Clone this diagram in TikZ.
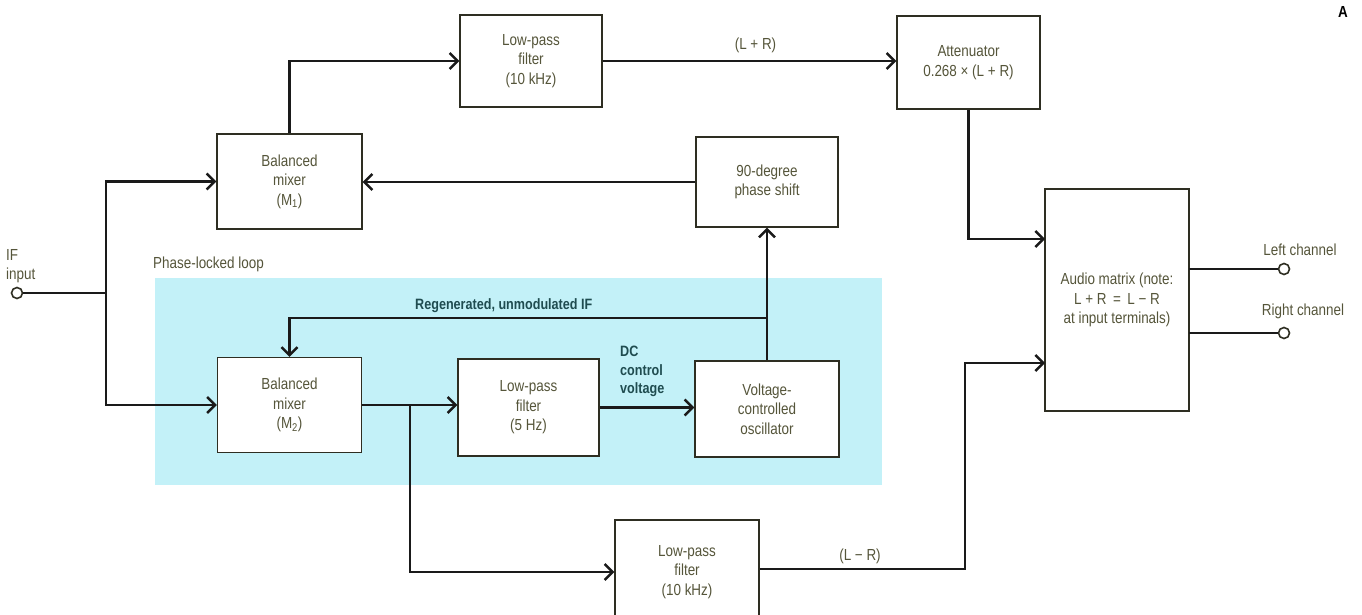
\documentclass[tikz,border=0pt]{standalone}
\usepackage{fontspec}
\setmainfont{Liberation Sans}[FakeStretch=0.84]
\usetikzlibrary{arrows.meta}
\definecolor{txtcol}{HTML}{55553A}
\definecolor{tealcol}{HTML}{1F4C50}
\definecolor{plcyan}{HTML}{C3F1F8}
\definecolor{bord}{HTML}{2E2E22}
\definecolor{wire}{HTML}{1A1A1A}
\tikzset{
  box/.style={draw=bord, line width=1.4pt, fill=white, align=center, inner sep=0pt,
    text=txtcol, font=\fontsize{16}{19.5}\selectfont},
  wireline/.style={draw=wire, line width=2.3pt},
  arr/.style={wireline, -{Straight Barb[length=8pt,width=16pt,line width=2.4pt]}},
  lbl/.style={text=txtcol, font=\fontsize{16}{19.5}\selectfont, inner sep=0pt},
  plllbl/.style={text=tealcol, font=\bfseries\fontsize{15}{18.5}\selectfont, inner sep=0pt},
  term/.style={circle, draw=bord, line width=1.6pt, fill=white, minimum size=11pt, inner sep=0pt}
}
\begin{document}
\begin{tikzpicture}[x=1pt,y=-1pt]
\useasboundingbox (0,0) rectangle (1362,615);
\fill[plcyan] (155,278) rectangle (882,485);

% boxes
\node[box, minimum width=142, minimum height=92] (lpf1) at (531,61) {Low-pass\\filter\\(10 kHz)};
\node[box, minimum width=143, minimum height=93] (att) at (968.5,62.5) {Attenuator\\0.268 × (L + R)};
\node[box, minimum width=145, minimum height=95] (m1) at (289.5,181.5) {Balanced\\mixer\\(M\textsubscript{1})};
\node[box, minimum width=142, minimum height=90] (ps) at (767,182) {90-degree\\phase shift};
\node[box, minimum width=144, minimum height=95] (m2) at (289.5,405) {Balanced\\mixer\\(M\textsubscript{2})};
\node[box, minimum width=141, minimum height=97] (lpf2) at (528.5,407.5) {Low-pass\\filter\\(5 Hz)};
\node[box, minimum width=144, minimum height=96] (vco) at (767,409) {Voltage-\\controlled\\oscillator};
\node[box, minimum width=144, minimum height=104] (lpf3) at (687,572) {Low-pass\\filter\\(10 kHz)};
\node[box, minimum width=144, minimum height=222] (am) at (1117,300) {Audio matrix (note:\\L + R \,=\, L − R\\at input terminals)};

% terminals
\node[term] (ifin) at (17,293) {};
\node[term] (lout) at (1284,269) {};
\node[term] (rout) at (1284,333) {};

% coordinates
\coordinate (j1) at (106,293);
\coordinate (r1) at (767,318);
\coordinate (b1) at (410,405);
\coordinate (am1) at (1045,239);
\coordinate (am2) at (1045,363);
\coordinate (k1) at (965,569);
\coordinate (am3) at (1189,269);
\coordinate (am4) at (1189,333);

% connectors
\draw[wireline] (ifin) -- (j1);
\draw[arr] (j1) |- (m1.west);
\draw[arr] (j1) |- (m2.west);
\draw[arr] (m1.north) |- (lpf1.west);
\draw[arr] (lpf1.east) -- (lpf1.east -| att.west) node[lbl, midway, above=7pt, xshift=6pt] {(L + R)};
\draw[arr] (att.south) |- (am1);
\draw[arr] (ps.west) -- (ps.west -| m1.east);
\draw[arr] (vco.north) -- (ps.south);
\draw[arr] (r1) -| (m2.north);
\draw[arr] (m2.east) -- (m2.east -| lpf2.west);
\draw[arr] (b1) |- (lpf3.west);
\draw[arr] (lpf2.east) -- (lpf2.east -| vco.west);
\draw[arr] (lpf3.east |- k1) -- (k1) |- (am2);
\draw[wireline] (am3) -- (lout);
\draw[wireline] (am4) -- (rout);

% labels
\node[lbl, anchor=north west, align=left] (iflbl) at (6,249) {IF\\input};
\node[lbl, anchor=west] (plllbl) at (153,264) {Phase-locked loop};
\node[plllbl, anchor=west] (regen) at (415,306) {Regenerated, unmodulated IF};
\node[plllbl, anchor=north west, align=left] (dclbl) at (620,346) {DC\\control\\voltage};
\node[lbl] (lmr) at (860,556) {(L − R)};
\node[lbl] (llbl) at (1300,250) {Left channel};
\node[lbl] (rlbl) at (1303,311) {Right channel};
\node[font=\bfseries\fontsize{16}{18}\selectfont, text=black, inner sep=0pt] (alab) at (1343,12) {A};
\end{tikzpicture}
\end{document}
